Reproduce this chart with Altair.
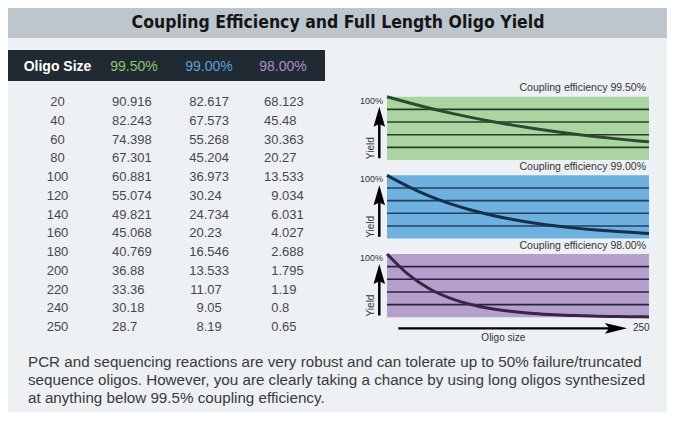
import altair as alt
import pandas as pd

# ---------------- data ----------------
title = "Coupling Efficiency and Full Length Oligo Yield"
header_first = "Oligo Size"
efficiency_labels = ["99.50%", "99.00%", "98.00%"]
oligo_sizes = [20, 40, 60, 80, 100, 120, 140, 160, 180, 200, 220, 240, 250]
yield_995 = [90.916, 82.243, 74.398, 67.301, 60.881, 55.074, 49.821, 45.068, 40.769, 36.88, 33.36, 30.18, 28.7]
yield_990 = [82.617, 67.573, 55.268, 45.204, 36.973, 30.24, 24.734, 20.23, 16.546, 13.533, 11.07, 9.05, 8.19]
yield_980 = [68.123, 45.48, 30.363, 20.27, 13.533, 9.034, 6.031, 4.027, 2.688, 1.795, 1.19, 0.8, 0.65]
curve_start_size = [0]
curve_start_yield = [100.0]
grid_levels = [20, 40, 60, 80]
note_lines = [
    "PCR and sequencing reactions are very robust and can tolerate up to 50% failure/truncated",
    "sequence oligos. However, you are clearly taking a chance by using long oligos synthesized",
    "at anything below 99.5% coupling efficiency.",
]

# ---------------- layout (view pixels = page pixels - 8px margin) ----------------
OFF = 8
W, H = 675 - 2 * OFF, 424 - 2 * OFF - 4


def vx(X):
    return X - OFF


def vy(Y):
    return Y - OFF


FONT = "Liberation Sans"
one = pd.DataFrame({"k": [0]})


def box(x0, x1, y0, y1, color):
    return alt.Chart(one).mark_rect(color=color).encode(
        x=alt.value(x0), x2=alt.value(x1), y=alt.value(y0), y2=alt.value(y1)
    )


def label(txt, x, y, **kw):
    props = dict(font=FONT, baseline="middle")
    props.update(kw)
    return alt.Chart(one).mark_text(text=txt, **props).encode(x=alt.value(x), y=alt.value(y))


layers = []
layers.append(box(0, W, vy(38), H, "#edf1f4"))
layers.append(box(0, W, 0, vy(38), "#bec6cd"))
layers.append(label(title, vx(338), vy(23), font="DejaVu Sans Condensed", fontWeight="bold",
                    fontSize=17.5, color="#151515", align="center"))

# header bar of the table
layers.append(box(0, vx(325), vy(50), vy(81), "#1f2a32"))
header_colors = ["#8fc66c", "#5ba0d8", "#b08acb"]
header_x = [vx(134), vx(209), vx(283)]
layers.append(label(header_first, vx(57.5), vy(66.5), fontSize=14, fontWeight="bold",
                    color="#ffffff", align="center"))
for lab, col, hx in zip(efficiency_labels, header_colors, header_x):
    layers.append(label(lab, hx, vy(66.5), fontSize=14, color=col, align="center"))

# ---------------- table ----------------
def split_int(v):
    s = str(v)
    return s.split(".")[0]


def split_frac(v):
    s = str(v)
    return "." + s.split(".")[1] if "." in s else ""


table = pd.DataFrame({"size": oligo_sizes, "size_str": [str(s) for s in oligo_sizes]})
for key, vals in (("a", yield_995), ("b", yield_990), ("c", yield_980)):
    table[key + "_int"] = [split_int(v) for v in vals]
    table[key + "_frac"] = [split_frac(v) for v in vals]

row_scale = alt.Scale(type="point", domain=oligo_sizes, range=[vy(102), vy(327)], padding=0)
ytab = alt.Y("size:O", scale=row_scale, axis=None)
tab_props = dict(font=FONT, fontSize=13, color="#484848", baseline="middle")
table_layers = [
    alt.Chart(table).mark_text(align="center", **tab_props).encode(
        x=alt.value(vx(57.5)), y=ytab, text="size_str:N")
]
for key, dec_x in (("a", vx(126.4)), ("b", vx(203.7)), ("c", vx(278.4))):
    table_layers.append(alt.Chart(table).mark_text(align="right", **tab_props).encode(
        x=alt.value(dec_x), y=ytab, text=f"{key}_int:N"))
    table_layers.append(alt.Chart(table).mark_text(align="left", **tab_props).encode(
        x=alt.value(dec_x), y=ytab, text=f"{key}_frac:N"))
layers.append(alt.layer(*table_layers))

# ---------------- yield panels ----------------
PX0, PX1 = vx(387), vx(649)
PH = 63.3
ARROW_PATH = "M0,-1 L0.55,0.9 L0,0.65 L-0.55,0.9 Z"


def panel(eff_label, values, top, fill, line_col, curve_col):
    xs = alt.Scale(domain=[0, max(oligo_sizes)], range=[PX0, PX1])
    ys = alt.Scale(domain=[0, 100], range=[top + PH, top])
    curve = pd.DataFrame({"size": curve_start_size + oligo_sizes,
                          "yield": curve_start_yield + list(values)})
    grid = pd.DataFrame({"level": grid_levels})
    parts = [
        box(PX0, PX1, top, top + PH, fill),
        alt.Chart(grid).mark_rule(color=line_col, strokeWidth=1.6).encode(
            y=alt.Y("level:Q", scale=ys, axis=None), x=alt.value(PX0), x2=alt.value(PX1)),
        alt.Chart(curve).mark_line(color=curve_col, strokeWidth=3, interpolate="monotone").encode(
            x=alt.X("size:Q", scale=xs, axis=None), y=alt.Y("yield:Q", scale=ys, axis=None)),
        label("Coupling efficiency  " + eff_label, vx(646), top - 8.3, fontSize=10.5,
              color="#333333", align="right"),
        label("100%", vx(383), top + 4, fontSize=9, color="#333333", align="right"),
        label("Yield", vx(371), top + 51.5, fontSize=10, color="#333333", align="center", angle=270),
        alt.Chart(one).mark_rule(color="#000000", strokeWidth=2.5).encode(
            x=alt.value(vx(379.3)), y=alt.value(top + 20), y2=alt.value(top + 61.5)),
        alt.Chart(one).mark_point(shape=ARROW_PATH, filled=True, size=440, color="#000000",
                                  opacity=1).encode(
            x=alt.value(vx(379.3)), y=alt.value(top + 20.5)),
    ]
    return alt.layer(*parts)


tops = [vy(96.7), vy(175.3), vy(254)]
layers.append(panel(efficiency_labels[0], yield_995, tops[0], "#aad5a0", "#2a3a2a", "#2c4a2e"))
layers.append(panel(efficiency_labels[1], yield_990, tops[1], "#6eb1e1", "#22405c", "#14304d"))
layers.append(panel(efficiency_labels[2], yield_980, tops[2], "#b59fcd", "#2c2236", "#3a2643"))

# x arrow (oligo size)
layers.append(alt.Chart(one).mark_rule(color="#000000", strokeWidth=2.2).encode(
    x=alt.value(vx(398.3)), x2=alt.value(vx(612)), y=alt.value(vy(328.3))))
layers.append(alt.Chart(one).mark_point(shape="M1,0 L-1,-0.48 L-0.6,0 L-1,0.48 Z", filled=True,
                                        size=500, color="#000000", opacity=1).encode(
    x=alt.value(vx(616)), y=alt.value(vy(328.3))))
layers.append(label(str(max(oligo_sizes)), vx(633), vy(328), fontSize=10, color="#333333", align="left"))
layers.append(label("Oligo size", vx(503.3), vy(337.5), fontSize=10, color="#333333", align="center"))

# note paragraph
for i, ln in enumerate(note_lines):
    layers.append(label(ln, vx(28), vy(361.5 + i * 18), fontSize=15.2, color="#3a3a3a", align="left"))

chart = alt.layer(*layers).resolve_scale(x="independent", y="independent").properties(
    width=W, height=H, padding=0, autosize=alt.AutoSizeParams(type="none")
).configure_view(stroke=None)

chart.save("out.html", embed_options={"renderer": "svg", "actions": False})
